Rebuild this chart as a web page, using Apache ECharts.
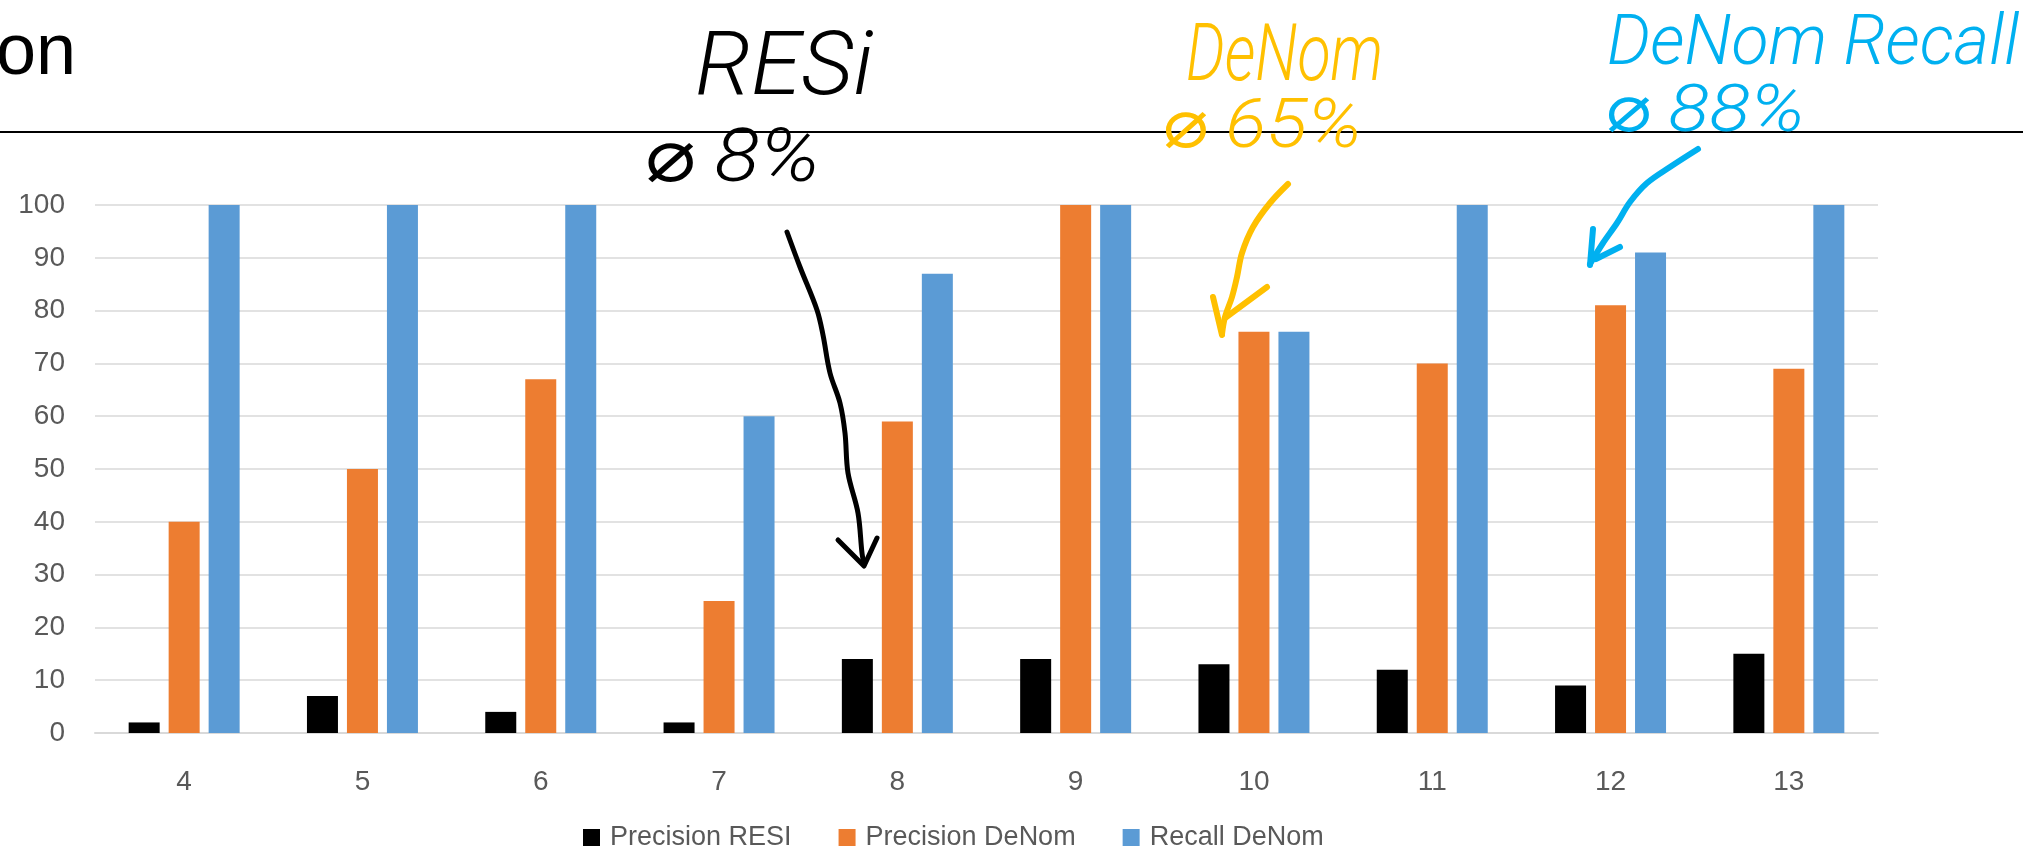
<!DOCTYPE html>
<html>
<head>
<meta charset="utf-8">
<script src="https://cdn.jsdelivr.net/npm/echarts@6/dist/echarts.min.js"></script>
<style>
  html, body { margin: 0; padding: 0; background: #ffffff; }
  #chart { width: 2023px; height: 852px; }
</style>
</head>
<body>
<div id="chart"></div>
<script>
// Categories and per-series values (percent)
const categories = ['4', '5', '6', '7', '8', '9', '10', '11', '12', '13'];
const precisionResi = [2, 7, 4, 2, 14, 14, 13, 12, 9, 15];
const precisionDenom = [40, 50, 67, 25, 59, 100, 76, 70, 81, 69];
const recallDenom = [100, 100, 100, 60, 87, 100, 76, 100, 91, 100];
const seriesNames = ['Precision RESI', 'Precision DeNom', 'Recall DeNom'];
const yTicks = { min: 0, max: 100, interval: 10 };

const labelColor = '#595959';
const gridColor = '#D9D9D9';
const baseFont = '"Liberation Sans", Arial, sans-serif';

// Hand-written style notes with their boxes (left, right, vertical centre, size)
const notes = [
  { text: 'RESi',         color: '#000000', left: 695,  right: 873,  cy: 72,  size: 88 },
  { text: '\u2300 8%',    color: '#000000', left: 643,  right: 820,  cy: 162, size: 74 },
  { text: 'DeNom',        color: '#FFC000', left: 1186, right: 1383, cy: 60,  size: 80 },
  { text: '\u2300 65%',   color: '#FFC000', left: 1161, right: 1362, cy: 130, size: 68 },
  { text: 'DeNom Recall', color: '#00B0F0', left: 1607, right: 2019, cy: 46,  size: 70 },
  { text: '\u2300 88%',   color: '#00B0F0', left: 1604, right: 1805, cy: 114, size: 66 }
];

// Pen strokes for the arrows pointing at the bars
const arrows = [
  { color: '#000000', width: 5,
    shaft: [[787, 232], [800, 267], [817, 310], [823, 335], [830, 373], [840, 403], [845, 433], [848, 473], [858, 513], [862, 553], [864, 564]],
    head: [[838, 540], [864, 566], [877, 538]] },
  { color: '#FFC000', width: 6,
    shaft: [[1288, 184], [1270, 203], [1253, 227], [1242, 253], [1237, 277], [1232, 297], [1225, 317], [1222, 334]],
    head: [[1213, 297], [1222, 335]], head2: [[1267, 287], [1225, 318]] },
  { color: '#00B0F0', width: 6,
    shaft: [[1698, 149], [1670, 167], [1647, 183], [1630, 202], [1617, 223], [1603, 243], [1590, 264]],
    head: [[1593, 229], [1590, 265]], head2: [[1620, 247], [1596, 259]] }
];

const noteFont = (size) => `italic 300 ${size}px Roboto, "DejaVu Sans", sans-serif`;
const measureCtx = document.createElement('canvas').getContext('2d');

const graphics = [];

// Slide title fragment and rule line
graphics.push({
  type: 'text', x: 76, y: 54,
  style: { text: 'on', font: `72px ${baseFont}`, fill: '#000000', textAlign: 'right', textVerticalAlign: 'middle' }
});
graphics.push({
  type: 'line',
  shape: { x1: 0, y1: 132, x2: 2023, y2: 132 },
  style: { stroke: '#000000', lineWidth: 2 }
});

notes.forEach(n => {
  measureCtx.font = noteFont(n.size);
  const w = measureCtx.measureText(n.text).width;
  graphics.push({
    type: 'text', x: n.left, y: n.cy, scaleX: (n.right - n.left) / w, z: 10,
    style: { text: n.text, font: noteFont(n.size), fill: n.color, textAlign: 'left', textVerticalAlign: 'middle' }
  });
});

arrows.forEach(a => {
  const strokeStyle = { stroke: a.color, lineWidth: a.width, lineCap: 'round', lineJoin: 'round', fill: null };
  graphics.push({ type: 'polyline', z: 10, shape: { points: a.shaft, smooth: 0.35 }, style: strokeStyle });
  graphics.push({ type: 'polyline', z: 10, shape: { points: a.head }, style: strokeStyle });
  if (a.head2) graphics.push({ type: 'polyline', z: 10, shape: { points: a.head2 }, style: strokeStyle });
});

const chart = echarts.init(document.getElementById('chart'), null, { renderer: 'canvas' });

chart.setOption({
  animation: false,
  backgroundColor: '#ffffff',
  color: ['#000000', '#ED7D31', '#5B9BD5'],
  grid: { left: 95, right: 145, top: 205, bottom: 119, containLabel: false },
  legend: {
    data: seriesNames,
    left: 578,
    top: 819,
    itemWidth: 17,
    itemHeight: 17,
    itemGap: 47,
    icon: 'rect',
    textStyle: { fontFamily: baseFont, fontSize: 27, color: labelColor, padding: [0, 0, 0, 5] }
  },
  xAxis: {
    type: 'category',
    data: categories,
    axisTick: { show: false },
    axisLine: { lineStyle: { color: gridColor, width: 2 } },
    axisLabel: { fontFamily: baseFont, fontSize: 28, color: labelColor, margin: 35 }
  },
  yAxis: {
    type: 'value',
    min: yTicks.min,
    max: yTicks.max,
    interval: yTicks.interval,
    axisLine: { show: false },
    axisTick: { show: false },
    splitLine: { lineStyle: { color: gridColor, width: 1.5 } },
    axisLabel: { fontFamily: baseFont, fontSize: 28, color: labelColor, margin: 30 }
  },
  series: [
    { name: seriesNames[0], type: 'bar', data: precisionResi, barWidth: 31, barGap: '29%' },
    { name: seriesNames[1], type: 'bar', data: precisionDenom, barWidth: 31, barGap: '29%' },
    { name: seriesNames[2], type: 'bar', data: recallDenom, barWidth: 31, barGap: '29%' }
  ],
  graphic: graphics
});
</script>
</body>
</html>
